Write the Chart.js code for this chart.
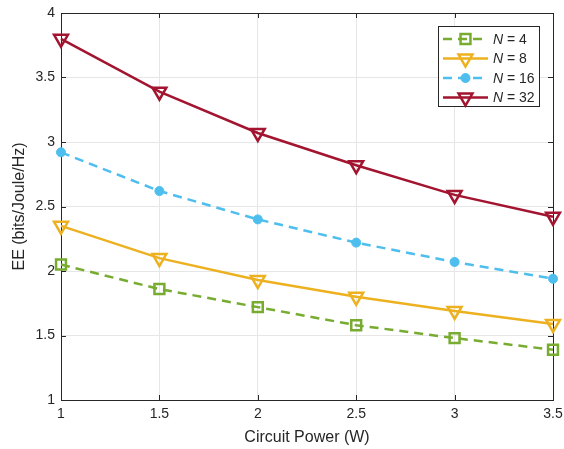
<!DOCTYPE html>
<html>
<head>
<meta charset="utf-8">
<script src="https://cdn.jsdelivr.net/npm/chart.js@4/dist/chart.umd.min.js"></script>
<style>
  html, body { margin: 0; padding: 0; background: #fff; }
  #wrap { width: 564px; height: 449px; }
</style>
</head>
<body>
<div id="wrap"><canvas id="eeChart" width="564" height="449"></canvas></div>
<script>
// ── DATA ──
const circuitPower = [1, 1.5, 2, 2.5, 3, 3.5];
const eeN4  = [2.05, 1.86, 1.72, 1.58, 1.48, 1.39];
const eeN8  = [2.35, 2.10, 1.93, 1.80, 1.69, 1.59];
const eeN16 = [2.92, 2.62, 2.40, 2.22, 2.07, 1.94];
const eeN32 = [3.80, 3.39, 3.07, 2.82, 2.59, 2.42];
const seriesNames = ['4', '8', '16', '32'];
const xTicks = [1, 1.5, 2, 2.5, 3, 3.5];
const yTicks = [1, 1.5, 2, 2.5, 3, 3.5, 4];

const FONT = '"Liberation Sans", Arial, Helvetica, sans-serif';
const AXIS_COLOR = '#262626';

const pts = (ys) => circuitPower.map((x, i) => ({ x: x, y: ys[i] }));

// ── BOX + INWARD TICKS (drawn under the lines, like MATLAB) ──
const boxPlugin = {
    id: 'box',
    beforeDatasetsDraw(chart) {
        const { ctx, chartArea: a, scales: { x, y } } = chart;
        ctx.save();
        ctx.strokeStyle = AXIS_COLOR;
        ctx.lineWidth = 1;
        ctx.beginPath();
        xTicks.forEach(v => {
            const px = Math.round(x.getPixelForValue(v)) + 0.5;
            ctx.moveTo(px, a.bottom); ctx.lineTo(px, a.bottom - 5);
            ctx.moveTo(px, a.top); ctx.lineTo(px, a.top + 5);
        });
        yTicks.forEach(v => {
            const py = Math.round(y.getPixelForValue(v)) + 0.5;
            ctx.moveTo(a.left, py); ctx.lineTo(a.left + 5, py);
            ctx.moveTo(a.right, py); ctx.lineTo(a.right - 5, py);
        });
        ctx.stroke();
        ctx.strokeRect(Math.round(a.left) + 0.5, Math.round(a.top) + 0.5,
            Math.round(a.right - a.left), Math.round(a.bottom - a.top));
        ctx.restore();
    }
};

// ── LEGEND (box inside the axes, top right) ──
function drawMarker(ctx, ds, cx, cy) {
    const r = ds.pointRadius;
    ctx.save();
    ctx.lineWidth = ds.pointBorderWidth;
    ctx.strokeStyle = ds.borderColor;
    ctx.fillStyle = ds.pointBackgroundColor;
    ctx.beginPath();
    if (ds.pointStyle === 'rect') {
        const s = Math.SQRT1_2 * r;
        ctx.rect(cx - s, cy - s, 2 * s, 2 * s);
    } else if (ds.pointStyle === 'triangle') {
        ctx.moveTo(cx, cy + r);
        ctx.lineTo(cx - r * Math.sin(Math.PI / 3), cy - r / 2);
        ctx.lineTo(cx + r * Math.sin(Math.PI / 3), cy - r / 2);
        ctx.closePath();
    } else {
        ctx.arc(cx, cy, r, 0, Math.PI * 2);
    }
    ctx.fill();
    ctx.stroke();
    ctx.restore();
}

const legendPlugin = {
    id: 'boxLegend',
    afterDatasetsDraw(chart) {
        const ctx = chart.ctx;
        const bx = 438.5, by = 26.5, bw = 101, bh = 80;
        ctx.save();
        ctx.fillStyle = '#fff';
        ctx.fillRect(bx, by, bw, bh);
        ctx.strokeStyle = AXIS_COLOR;
        ctx.lineWidth = 1;
        ctx.strokeRect(bx, by, bw, bh);
        chart.data.datasets.forEach((ds, i) => {
            const cy = 39 + i * 19.5;
            ctx.save();
            ctx.strokeStyle = ds.borderColor;
            ctx.lineWidth = ds.borderWidth;
            ctx.setLineDash(ds.borderDash || []);
            ctx.beginPath();
            ctx.moveTo(443, cy);
            ctx.lineTo(488, cy);
            ctx.stroke();
            ctx.restore();
            drawMarker(ctx, ds, 465.5, cy);
            ctx.fillStyle = AXIS_COLOR;
            ctx.textBaseline = 'middle';
            ctx.font = 'italic 14px ' + FONT;
            ctx.fillText('N', 493, cy + 1);
            const nw = ctx.measureText('N').width;
            ctx.font = '14px ' + FONT;
            ctx.fillText(' = ' + seriesNames[i], 493 + nw, cy + 1);
        });
        ctx.restore();
    }
};

// ── CHART ──
const ctx = document.getElementById('eeChart').getContext('2d');
const eeChart = new Chart(ctx, {
    type: 'line',
    data: {
        datasets: [
            {
                label: 'N = 4', data: pts(eeN4),
                borderColor: '#77AC30', borderWidth: 2.5, borderDash: [9, 6],
                pointStyle: 'rect', pointRadius: 7, pointBorderWidth: 2.5,
                pointBackgroundColor: 'rgba(255,255,255,0)'
            },
            {
                label: 'N = 8', data: pts(eeN8),
                borderColor: '#EDB120', borderWidth: 2.5,
                pointStyle: 'triangle', rotation: 180, pointRadius: 8, pointBorderWidth: 2.5,
                pointBackgroundColor: 'rgba(255,255,255,0)'
            },
            {
                label: 'N = 16', data: pts(eeN16),
                borderColor: '#4DBEEE', borderWidth: 2.5, borderDash: [9, 6],
                pointStyle: 'circle', pointRadius: 4.5, pointBorderWidth: 1,
                pointBackgroundColor: '#4DBEEE'
            },
            {
                label: 'N = 32', data: pts(eeN32),
                borderColor: '#A2142F', borderWidth: 2.5,
                pointStyle: 'triangle', rotation: 180, pointRadius: 8, pointBorderWidth: 2.5,
                pointBackgroundColor: 'rgba(255,255,255,0)'
            }
        ]
    },
    options: {
        responsive: false,
        animation: false,
        clip: false,
        layout: { padding: { top: 13, right: 11, left: 0, bottom: 0 } },
        elements: { line: { tension: 0, fill: false } },
        scales: {
            x: {
                type: 'linear', min: 1, max: 3.5,
                afterBuildTicks: (s) => { s.ticks = xTicks.map(v => ({ value: v })); },
                afterFit: (s) => { s.height = 49; s.paddingLeft = 0; s.paddingRight = 0; },
                grid: { color: '#e6e6e6', drawTicks: false },
                border: { display: false },
                ticks: {
                    color: AXIS_COLOR, padding: 6, maxRotation: 0,
                    font: { size: 14, family: FONT },
                    callback: (v) => String(v)
                },
                title: {
                    display: true, text: 'Circuit Power (W)', color: AXIS_COLOR,
                    font: { size: 16, family: FONT }, padding: { top: 0, bottom: 1.5 }
                }
            },
            y: {
                type: 'linear', min: 1, max: 4,
                afterBuildTicks: (s) => { s.ticks = yTicks.map(v => ({ value: v })); },
                afterFit: (s) => { s.width = 61; s.paddingTop = 0; s.paddingBottom = 0; },
                grid: { color: '#e6e6e6', drawTicks: false },
                border: { display: false },
                ticks: {
                    color: AXIS_COLOR, padding: 6,
                    font: { size: 14, family: FONT },
                    callback: (v) => String(v)
                },
                title: {
                    display: true, text: 'EE (bits/Joule/Hz)', color: AXIS_COLOR,
                    font: { size: 16, family: FONT }, padding: { top: 10, bottom: 0 }
                }
            }
        },
        plugins: { legend: { display: false }, tooltip: { enabled: false } }
    },
    plugins: [boxPlugin, legendPlugin]
});
</script>
</body>
</html>
